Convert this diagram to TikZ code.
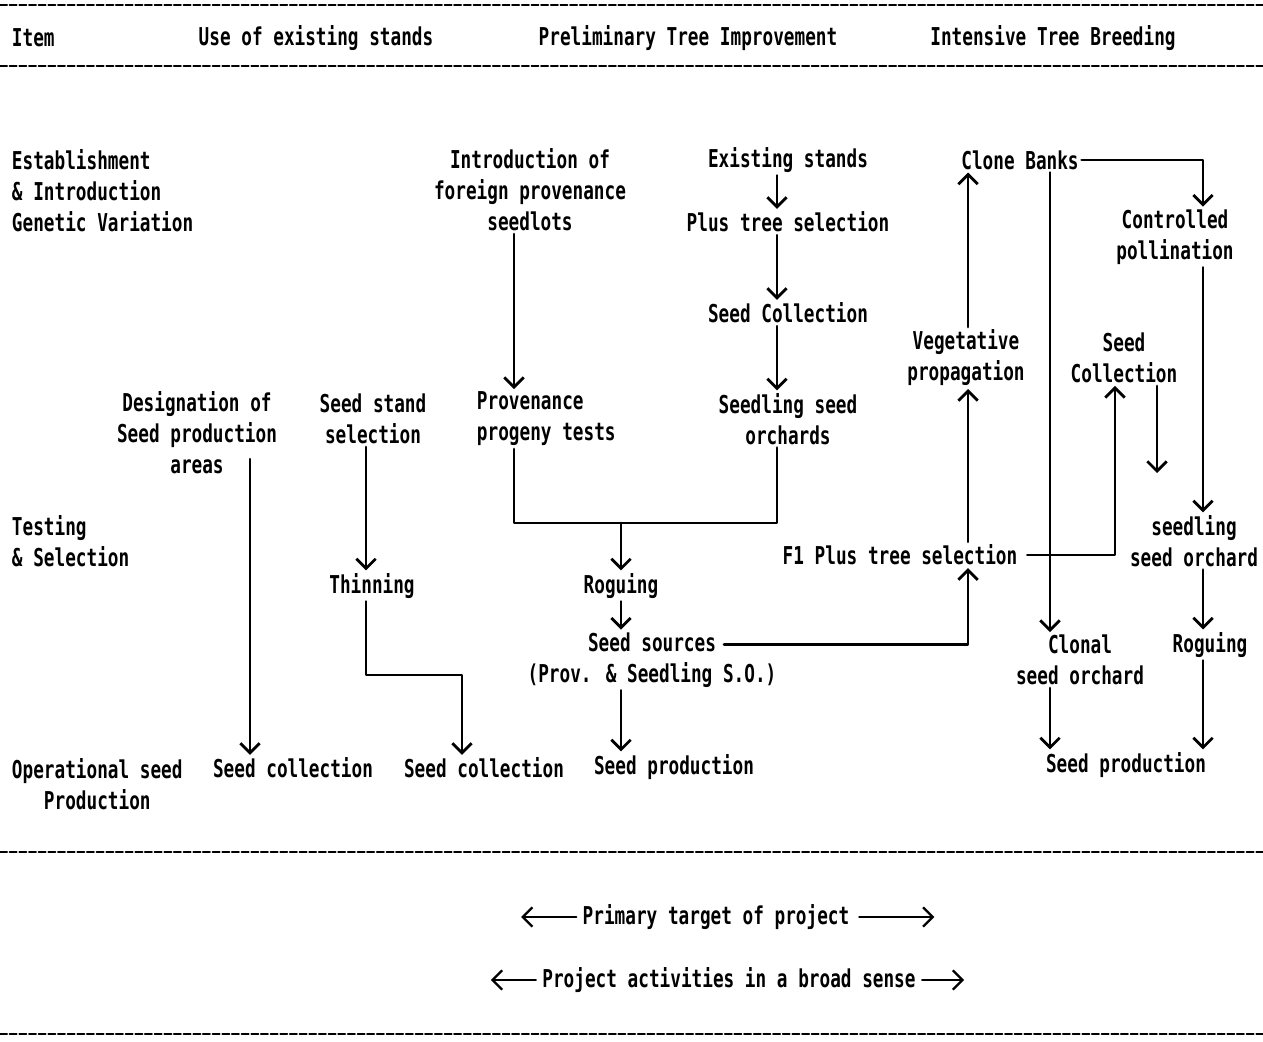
\documentclass[tikz,border=0pt]{standalone}
\usepackage{fontspec}
\newfontfamily\dotfont[FakeStretch=0.72]{DejaVu Sans Mono}
\usetikzlibrary{arrows.meta,calc}

\begin{document}
\begin{tikzpicture}[x=0.02cm, y=-0.02cm, line join=round, line cap=round,
	>={Straight Barb[length=5.5pt,width=11pt]},
	font=\dotfont\bfseries\fontsize{14}{17.6}\selectfont,
	every node/.style={inner sep=1.5pt},
	flow/.style={->, line width=1.6pt},
	joinline/.style={line width=1.6pt},
	sepline/.style={line width=1.1pt, dash pattern=on 4pt off 1.5pt},
	legarrow/.style={->, line width=1.3pt}]
	\useasboundingbox (0,0) rectangle (1263,1041);
	% separators
	\foreach \yy in {5,66,852,1034} \draw[sepline] (0,\yy) -- (1263,\yy);
	% header
	\node[anchor=west] (item) at (9,38) {Item};
	\node (hUse) at (316,38) {Use of existing stands};
	\node (hPre) at (688,38) {Preliminary Tree Improvement};
	\node (hInt) at (1053,38) {Intensive Tree Breeding};
	% row labels
	\node[anchor=west, align=left] (estab) at (9,191) {Establishment\\\& Introduction\\Genetic Variation};
	\node[anchor=west, align=left] (test) at (9,541) {Testing\\\& Selection};
	\node[anchor=west, align=center] (oper) at (9,784) {Operational seed\\Production};
	% column axes and levels
	\coordinate (aDes) at (250,0); \coordinate (aStand) at (366,0); \coordinate (aJog) at (462,0);
	\coordinate (aProv) at (514,0); \coordinate (aMid) at (621,0); \coordinate (aSso) at (777,0);
	\coordinate (aVeg) at (968,0); \coordinate (aClone) at (1050,0); \coordinate (aSc) at (1115,0);
	\coordinate (aSc2) at (1157,0); \coordinate (aCtrl) at (1203,0);
	\coordinate (lJoin) at (0,523); \coordinate (lThin) at (0,675); \coordinate (scEnd) at (1157,473);
	% use of existing stands
	\node[align=center] (desig) at (197,433) {Designation of\\Seed production\\areas};
	\node[align=center] (stand) at (373,419) {Seed stand\\selection};
	\node (thin) at (372,586) {Thinning};
	\node (sc1) at (293,768) {Seed collection};
	\node (sc2) at (484,768) {Seed collection};
	% preliminary tree improvement
	\node[align=center] (intro) at (530,190) {Introduction of\\foreign provenance\\seedlots};
	\node[anchor=west, align=left] (prov) at (474,419) {Provenance\\progeny tests};
	\node (exist) at (788,160) {Existing stands};
	\node (plus) at (788,222) {Plus tree selection};
	\node (seedcol) at (788,313) {Seed Collection};
	\node[align=center] (sso) at (788,419) {Seedling seed\\orchards};
	\node (rog1) at (621,586) {Roguing};
	\node[align=center] (src) at (652,660) {Seed sources\\(Prov. \& Seedling S.O.)};
	\node (sp1) at (674,767) {Seed production};
	% intensive tree breeding
	\node (clone) at (1020,160) {Clone Banks};
	\node[align=center] (ctrl) at (1175,237) {Controlled\\pollination};
	\node[align=center] (veg) at (966,358) {Vegetative\\propagation};
	\node[align=center] (seedc2) at (1124,358) {Seed\\Collection};
	\node (f1) at (900,555) {F1 Plus tree selection};
	\node[align=center] (sso2) at (1194,541) {seedling\\seed orchard};
	\node[align=center] (clonal) at (1080,660) {Clonal\\seed orchard};
	\node (rog2) at (1210,645) {Roguing};
	\node (sp2) at (1126,765) {Seed production};
	% connectors
	\draw[flow] ($(desig.south -| aDes)+(0,-18)$) -- (sc1.north -| aDes);
	\draw[flow] (stand.south -| aStand) -- (thin.north -| aStand);
	\draw[flow] (thin.south -| aStand) |- (lThin -| aJog) -- (sc2.north -| aJog);
	\draw[flow] (intro.south -| aProv) -- (prov.north -| aProv);
	\draw[flow] (exist.south -| aSso) -- (plus.north -| aSso);
	\draw[flow] (plus.south -| aSso) -- (seedcol.north -| aSso);
	\draw[flow] (seedcol.south -| aSso) -- (sso.north -| aSso);
	\draw[joinline] (prov.south -| aProv) |- (lJoin -| aSso) -- (sso.south -| aSso);
	\draw[flow] (lJoin -| aMid) -- (rog1.north -| aMid);
	\draw[flow] (rog1.south -| aMid) -- (src.north -| aMid);
	\draw[flow] (src.south -| aMid) -- (sp1.north -| aMid);
	\draw[flow] ($(src.north)+(72,15)$) -| (f1.south -| aVeg);
	\draw[flow] (f1.north -| aVeg) -- (veg.south -| aVeg);
	\draw[flow] (veg.north -| aVeg) -- (clone.south -| aVeg);
	\draw[flow] (clone.east) -| (ctrl.north -| aCtrl);
	\draw[flow] (clone.south -| aClone) -- (clonal.north -| aClone);
	\draw[flow, shorten <=4pt] (f1.east) -| (seedc2.south -| aSc);
	\draw[flow] (seedc2.south -| aSc2) -- (scEnd);
	\draw[flow] (ctrl.south -| aCtrl) -- (sso2.north -| aCtrl);
	\draw[flow] (sso2.south -| aCtrl) -- (rog2.north -| aCtrl);
	\draw[flow] (rog2.south -| aCtrl) -- (sp2.north -| aCtrl);
	\draw[flow] (clonal.south -| aClone) -- (sp2.north -| aClone);
	% legend
	\node (prim) at (716,917) {Primary target of project};
	\node (broad) at (729,980) {Project activities in a broad sense};
	\draw[legarrow] ([xshift=-2pt]prim.west) -- ++(-55,0);
	\draw[legarrow] ([xshift=4pt]prim.east) -- ++(75,0);
	\draw[legarrow] ([xshift=-2pt]broad.west) -- ++(-45,0);
	\draw[legarrow] ([xshift=2pt]broad.east) -- ++(42,0);
\end{tikzpicture}
\end{document}
